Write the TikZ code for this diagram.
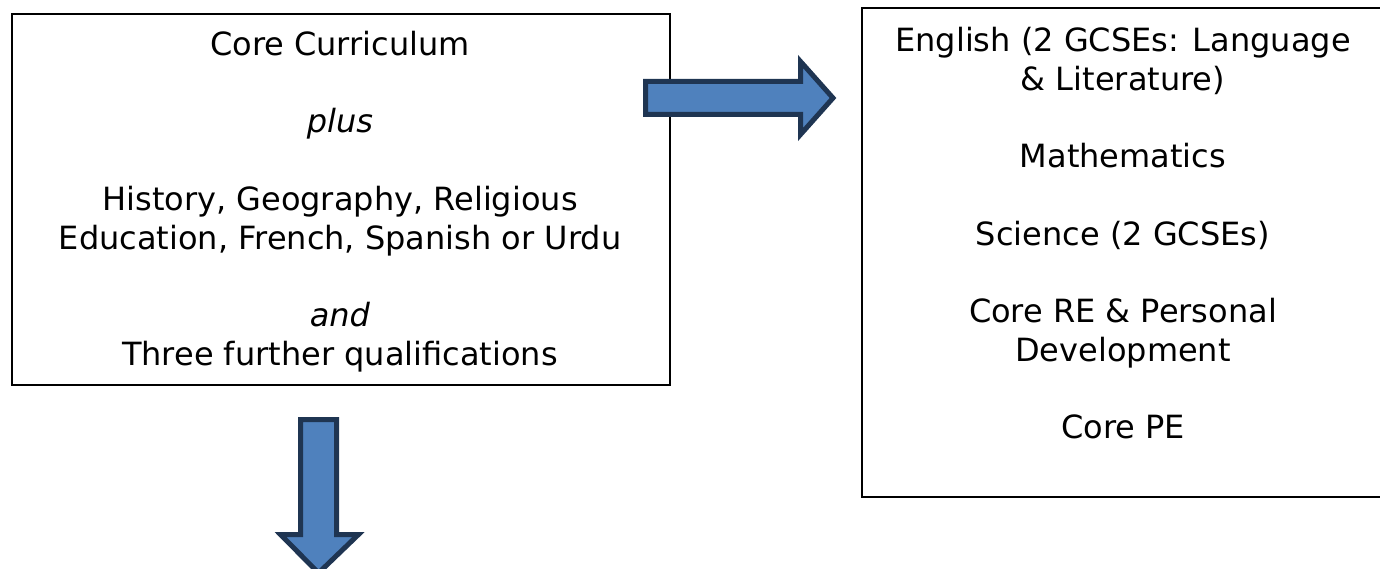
\documentclass[tikz,border=0pt]{standalone}
\usepackage{fontspec}
\setmainfont{DejaVu Sans}
\definecolor{arrowfill}{HTML}{4F81BD}
\definecolor{arrowline}{HTML}{1F3552}
\begin{document}
\begin{tikzpicture}[x=1pt,y=-1pt,
  box/.style={draw=black,line width=2pt,inner sep=0pt,anchor=north west},
  txt/.style={align=center,font=\fontsize{32}{38.7}\selectfont,inner sep=0pt,anchor=north},
  blockarrow/.style={fill=arrowfill,draw=arrowline,line width=5pt,line join=miter}]
\useasboundingbox (0,0) rectangle (1380,569);
\clip (0,0) rectangle (1380,569);
% boxes
\node[box,minimum width=658.3pt,minimum height=370.7pt] (leftbox) at (10.7,13) {};
\node[box,minimum width=525pt,minimum height=489pt] (rightbox) at (861,7) {};
% texts
\node[txt] (lefttext) at (340,31) {Core Curriculum\\[38.7pt]
  \textit{plus}\\[38.7pt]
  History, Geography, Religious\\
  Education, French, Spanish or Urdu\\[38.7pt]
  \textit{and}\\
  Three further qualifications};
\node[txt] (righttext) at (1123,27.2) {English (2 GCSEs: Language\\
  \& Literature)\\[38.7pt]
  Mathematics\\[38.7pt]
  Science (2 GCSEs)\\[38.7pt]
  Core RE \& Personal\\
  Development\\[38.7pt]
  Core PE};
% block arrows
\draw[blockarrow] (645.5,81.5) -- (800.5,81.5) -- (800.5,61.5) -- (833,98) -- (800.5,134.5) -- (800.5,114.5) -- (645.5,114.5) -- cycle;
\draw[blockarrow] (300.5,419.5) -- (336.5,419.5) -- (336.5,534.5) -- (358.5,534.5) -- (318.5,573) -- (280.5,534.5) -- (300.5,534.5) -- cycle;
\end{tikzpicture}
\end{document}
